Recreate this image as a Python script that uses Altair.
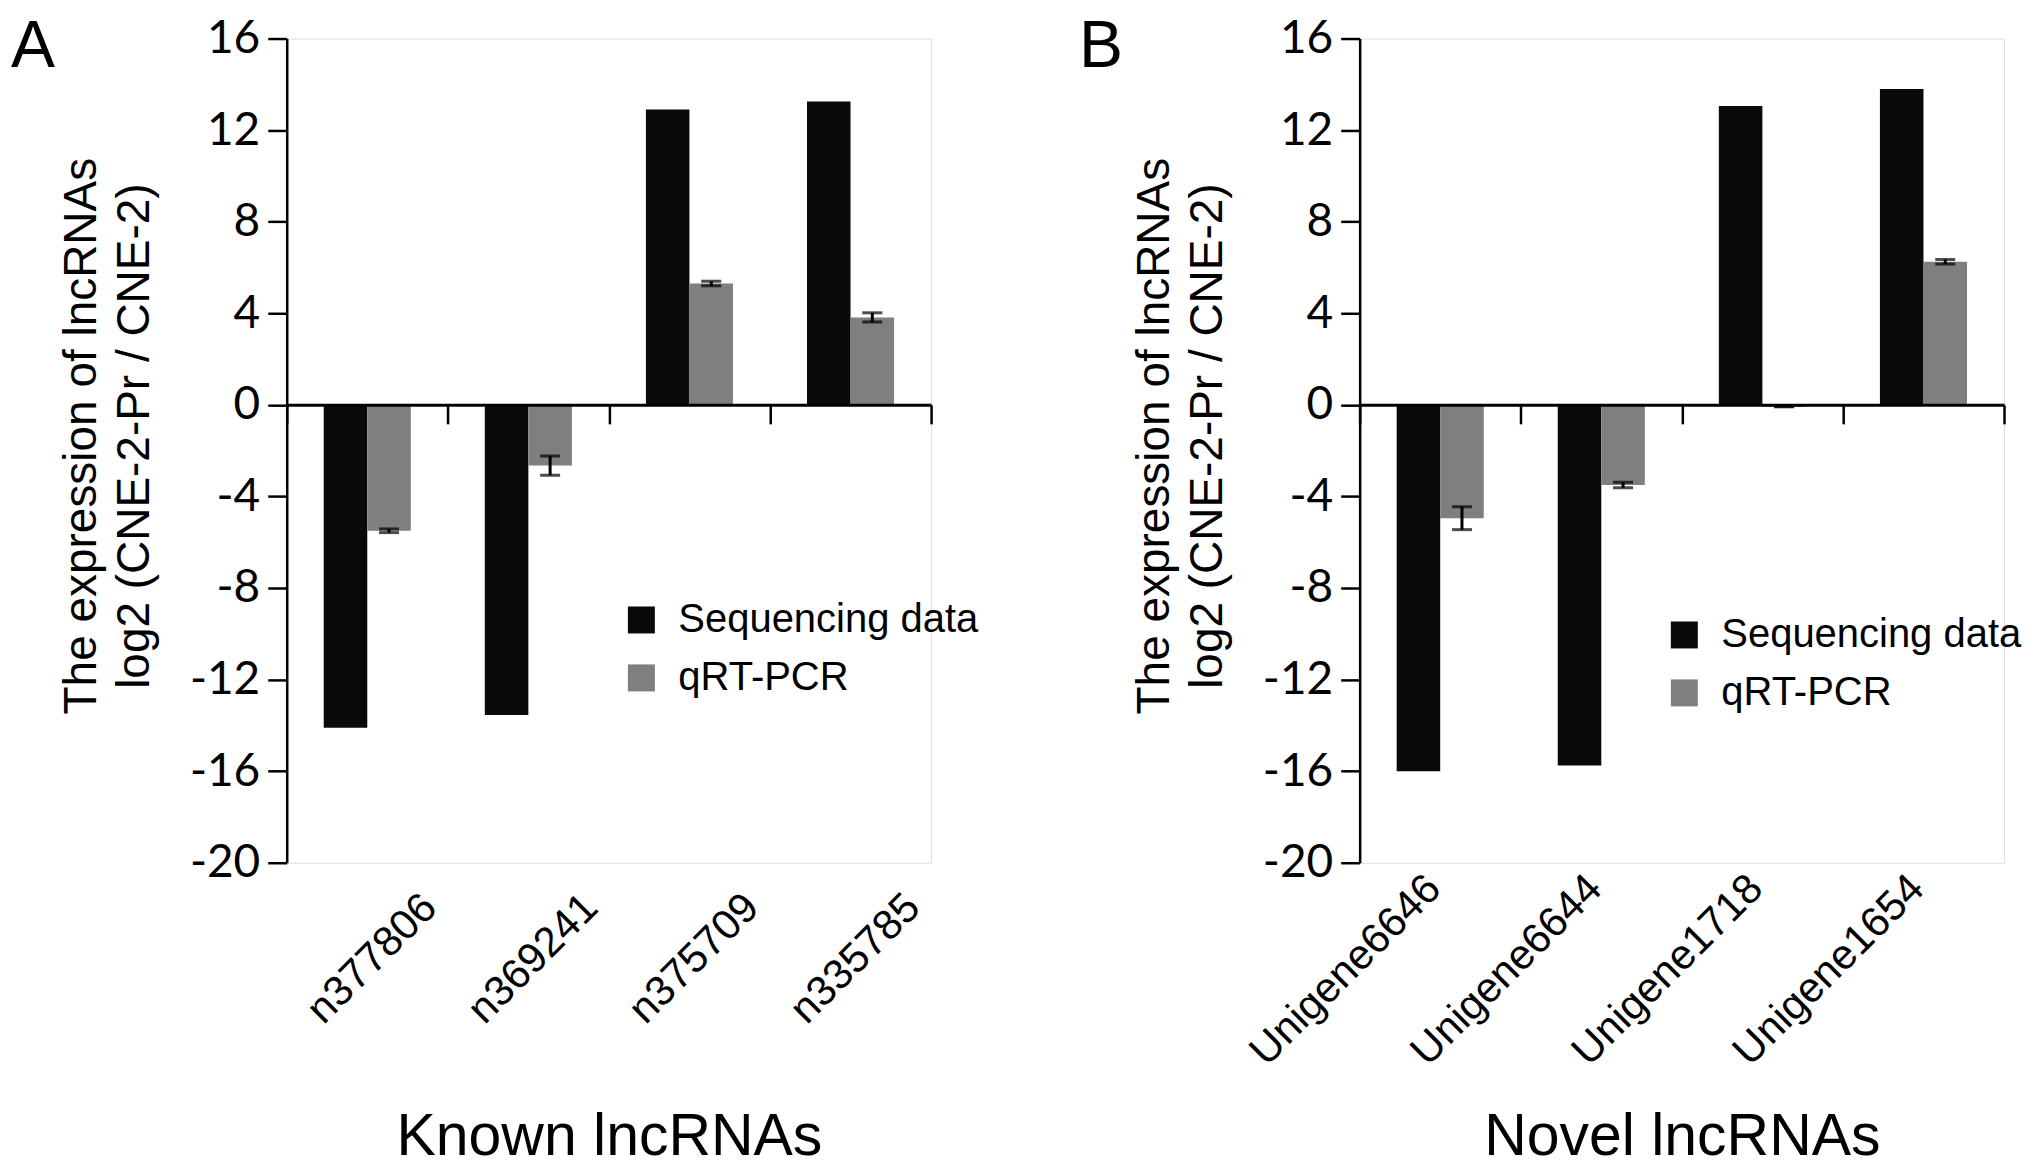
import altair as alt
import pandas as pd

# series shown in both panels
series_names = ["Sequencing data", "qRT-PCR"]
bar_colors = ["#0a0a0a", "#7f7f7f"]

# panel A - known lncRNAs
known_ids = ["n377806", "n369241", "n375709", "n335785"]
known_seq = [-14.1, -13.55, 12.9, 13.25]
known_qpcr = [-5.5, -2.65, 5.3, 3.82]
known_err = [0.08, 0.42, 0.1, 0.2]

# panel B - novel lncRNAs
novel_ids = ["Unigene6646", "Unigene6644", "Unigene1718", "Unigene1654"]
novel_seq = [-16.0, -15.75, 13.05, 13.8]
novel_qpcr = [-4.95, -3.5, -0.08, 6.25]
novel_err = [0.5, 0.12, 0.0, 0.1]

y_ticks = [-20, -16, -12, -8, -4, 0, 4, 8, 12, 16]
y_title = ["The expression of lncRNAs", "log2 (CNE-2-Pr / CNE-2)"]

W, H = 645, 825
Y_MIN, Y_MAX = -20, 16
# move the category axis up onto the zero line
zero_offset = -H * (0 - Y_MIN) / (Y_MAX - Y_MIN)


def make_panel(ids, seq, qpcr, err, letter, xtitle, legend_x, legend_y,
               label_offset, label_padding, letter_dx):
    bars = pd.DataFrame({
        "gene": ids * 2,
        "series": [s for s in series_names for _ in ids],
        "value": seq + qpcr,
    })
    errs = pd.DataFrame({
        "gene": ids,
        "series": "qRT-PCR",
        "lo": [q - e for q, e in zip(qpcr, err)],
        "hi": [q + e for q, e in zip(qpcr, err)],
    })

    x_axis = alt.Axis(
        title=xtitle, orient="bottom", offset=zero_offset, zindex=1,
        domainColor="black", domainWidth=3,
        tickBand="extent", tickSize=19, tickWidth=2.5, tickColor="black",
        labelAngle=-45, labelAlign="right", labelBaseline="middle",
        labelFont="Liberation Sans", labelFontSize=42, labelColor="black",
        labelPadding=label_padding, labelOffset=label_offset, labelOverlap=False,
        labelLimit=0,
        titleFont="Liberation Sans", titleFontSize=59, titleFontWeight="normal",
        titleColor="black", titleY=750, titleBaseline="alphabetic",
    )
    y_axis = alt.Axis(
        values=y_ticks, title=y_title, grid=False,
        domainColor="black", domainWidth=2.5,
        tickSize=19, tickWidth=2.5, tickColor="black",
        labelExpr="datum.value < 0 ? '-' + abs(datum.value) : '' + datum.value",
        labelFont="Lato", labelFontSize=46, labelColor="black", labelPadding=8,
        titleFont="Liberation Sans", titleFontSize=46, titleFontWeight="normal",
        titleColor="black", titleLineHeight=53, titlePadding=31, titleY=H / 2 - 15,
    )
    x = alt.X("gene:N", sort=ids,
              scale=alt.Scale(domain=ids, paddingInner=0, paddingOuter=0),
              axis=x_axis)
    xo = alt.XOffset("series:N",
                     scale=alt.Scale(domain=series_names, paddingInner=0, paddingOuter=0.85))

    bar = alt.Chart(bars).mark_bar().encode(
        x=x, xOffset=xo,
        y=alt.Y("value:Q", scale=alt.Scale(domain=[Y_MIN, Y_MAX], nice=False, zero=False),
                axis=y_axis),
        color=alt.Color("series:N", sort=series_names,
                        scale=alt.Scale(domain=series_names, range=bar_colors),
                        legend=alt.Legend(orient="none", legendX=legend_x, legendY=legend_y,
                                          title=None, symbolType="square", symbolSize=729,
                                          symbolStrokeWidth=0, labelFont="Liberation Sans",
                                          labelFontSize=40, labelColor="black", labelLimit=0,
                                          labelOffset=17, rowPadding=18)),
    )
    stem = alt.Chart(errs).mark_rule(color="black", strokeWidth=3).encode(
        x=alt.X("gene:N", sort=ids), xOffset=alt.XOffset("series:N"),
        y="lo:Q", y2="hi:Q",
    )
    cap_lo = alt.Chart(errs).mark_tick(color="black", thickness=3, size=20,
                                       orient="horizontal").encode(
        x=alt.X("gene:N", sort=ids), xOffset=alt.XOffset("series:N"), y="lo:Q",
    )
    cap_hi = alt.Chart(errs).mark_tick(color="black", thickness=3, size=20,
                                       orient="horizontal").encode(
        x=alt.X("gene:N", sort=ids), xOffset=alt.XOffset("series:N"), y="hi:Q",
    )
    return alt.layer(bar, stem, cap_lo, cap_hi).properties(
        width=W, height=H,
        title=alt.TitleParams(letter, anchor="start", frame="group", dx=letter_dx,
                              baseline="top", offset=-65, font="Liberation Sans",
                              fontSize=66, fontWeight="normal", color="black"),
    )


panel_a = make_panel(known_ids, known_seq, known_qpcr, known_err, "A", "Known lncRNAs",
                     335, 562, 62, 477, -276)
panel_b = make_panel(novel_ids, novel_seq, novel_qpcr, novel_err, "B", "Novel lncRNAs",
                     305, 577, -7, 458, -281)

chart = alt.hconcat(panel_a, panel_b, spacing=429, bounds="flush").resolve_scale(
    x="independent", xOffset="independent", color="independent"
).resolve_legend(color="independent").properties(
    padding={"left": 2, "top": 4, "right": 0, "bottom": 0}
).configure_view(stroke=None).configure(background="white")

chart.save("out.html", embed_options={"renderer": "svg", "actions": False})
